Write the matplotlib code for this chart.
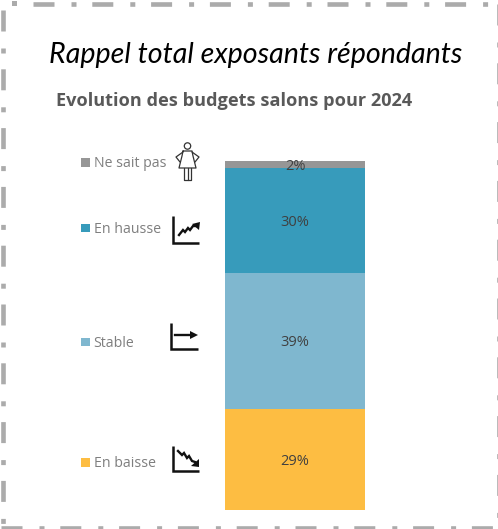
import matplotlib
matplotlib.use("Agg")
import numpy as np
import matplotlib.pyplot as plt
from matplotlib.patches import Circle, Polygon, Rectangle

W, H = 498, 529

# Stacked from the bottom up.
categories = ["En baisse", "Stable", "En hausse", "Ne sait pas"]
values = [29, 39, 30, 2]
colors = ["#FDBD42", "#7FB7CF", "#379BBB", "#969696"]
legend_y = [462.5, 342, 228, 162.5]

text_grey = "#595959"
label_grey = "#7F7F7F"
border_grey = "#ABABAB"

fig = plt.figure(figsize=(W / 100, H / 100), dpi=100)

# Overlay in pixel coordinates for the frame, titles, legend and icons.
deco = fig.add_axes([0, 0, 1, 1])
deco.set_xlim(0, W)
deco.set_ylim(H, 0)
deco.axis("off")

# Dash-dot frame, the pattern is given in pixels / line width
lw_px = 4.6
dash = (0, (21 / lw_px, 17 / lw_px, 5 / lw_px, 15.8 / lw_px))
dash_kw = dict(color=border_grey, lw=lw_px * 0.72, dash_capstyle="butt")
deco.plot([33, W], [3.5, 3.5], linestyle=dash, **dash_kw)
deco.plot([1, W], [528, 528], linestyle=dash, **dash_kw)
deco.plot([2.5, 2.5], [10, H], linestyle=dash, **dash_kw)
deco.plot([499, 499], [4, H], linestyle=dash, clip_on=True, **dash_kw)
deco.add_patch(Rectangle((12, 1.2), 5, 4.6, color=border_grey, lw=0))

deco.text(256, 55.5, "Rappel total exposants répondants", family="Lato", style="italic",
          fontsize=20.6, color="black", ha="center", va="center")
deco.text(56, 101, "Evolution des budgets salons pour 2024", family="Open Sans", weight="bold",
          fontsize=13.05, color=text_grey, ha="left", va="center")

# Legend
for name, col, y in zip(categories, colors, legend_y):
    deco.add_patch(Rectangle((81, y - 4.5), 8.5, 8.5, color=col, lw=0))
    deco.text(93.5, y + 1.3, name, family="Open Sans", fontsize=10.15, color=label_grey,
              ha="left", va="center")

# Woman icon
ic = dict(color="#333333", lw=0.9, solid_capstyle="round", solid_joinstyle="round")
deco.add_patch(Circle((187.5, 146), 3.2, fill=False, ec="#333333", lw=0.9))
deco.plot([183, 192, 193, 196, 179, 182, 183], [151, 151, 156, 168, 168, 156, 151], **ic)
deco.plot([183, 176, 180], [152, 157, 162], **ic)
deco.plot([192, 199, 195], [152, 157, 162], **ic)
deco.plot([184, 184, 191, 191], [168, 180, 180, 168], **ic)
deco.plot([187.5, 187.5], [168, 180], **ic)

# Trend icons
ax_kw = dict(color="#111111", lw=1.8, solid_capstyle="butt", solid_joinstyle="miter")
line_kw = dict(color="#111111", lw=1.7, solid_joinstyle="miter")

deco.plot([173, 173, 199], [216, 243, 243], **ax_kw)
deco.plot([179, 183, 185, 188, 190, 193, 196], [235, 230, 232, 228, 230, 226, 226], **line_kw)
deco.add_patch(Polygon([[192, 224], [200, 222], [199, 230]], color="#111111", lw=0))

deco.plot([171, 171, 198], [323, 349, 349], **ax_kw)
deco.plot([175, 192], [335, 335], **line_kw)
deco.add_patch(Polygon([[190, 331], [198, 335], [190, 339]], color="#111111", lw=0))

deco.plot([173, 173, 199], [446, 471, 471], **ax_kw)
deco.plot([178, 182, 184, 187, 189, 192, 195], [451, 455, 453, 458, 456, 461, 462], **line_kw)
deco.add_patch(Polygon([[199, 459], [199, 467], [191, 466]], color="#111111", lw=0))

# Stacked bar
ax = fig.add_axes([225 / W, (H - 510) / H, 140 / W, 349 / H])
ax.set_xlim(-0.5, 0.5)
ax.set_ylim(0, sum(values))
ax.axis("off")
ax.patch.set_alpha(0)

bottom = 0
for val, col in zip(values, colors):
    ax.bar(0, val, width=1, bottom=bottom, color=col, lw=0)
    ax.text(0, bottom + val / 2 - 0.6, "{}%".format(val), family="Open Sans",
            fontsize=10.5, color="#404040", ha="center", va="center")
    bottom += val

fig.savefig("out.png", dpi=100)
